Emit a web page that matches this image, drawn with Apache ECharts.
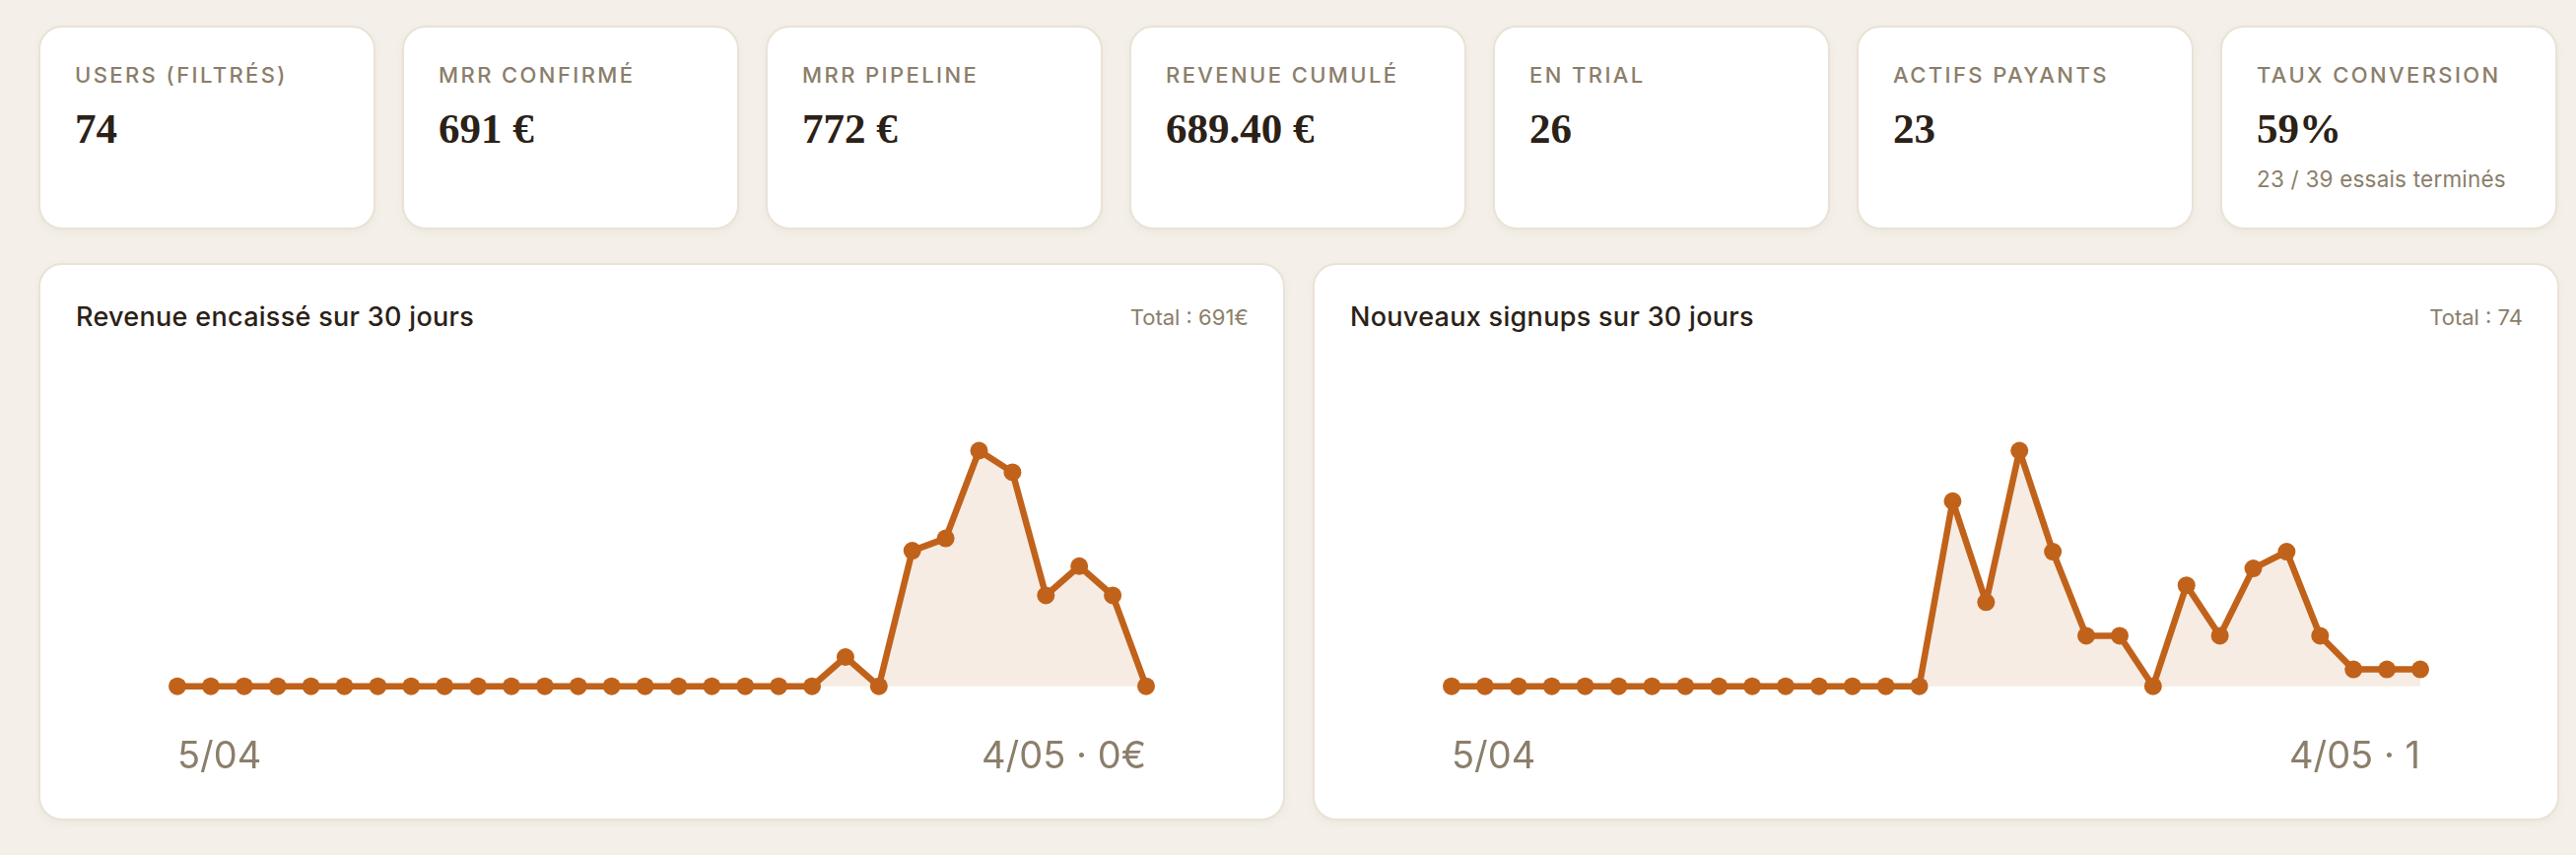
<!DOCTYPE html>
<html>
<head>
<meta charset="utf-8">
<script src="https://cdn.jsdelivr.net/npm/echarts@6/dist/echarts.min.js"></script>
<style>
  html, body { margin:0; padding:0; width:2614px; height:868px; overflow:hidden; background:#f4f0e9; font-family: Inter, "Noto Sans", sans-serif; }
  .card { position:absolute; background:#fff; border:2px solid #e9e2d6; border-radius:24px; box-sizing:border-box; box-shadow:0 3px 8px rgba(140,120,90,0.07); }
  .t { position:absolute; white-space:nowrap; }
  .lbl { font-size:22px; line-height:22px; letter-spacing:2.4px; color:#8b7e6a; font-weight:500; }
  .val { font-family:"Liberation Serif", "DejaVu Serif", serif; font-weight:700; font-size:43px; line-height:43px; color:#2b2117; }
  .sub { font-size:22.5px; line-height:22px; color:#8b7e6a; letter-spacing:0.2px; }
  .title { font-size:27px; line-height:27px; font-weight:500; color:#2b2117; letter-spacing:0.3px; }
  .total { font-size:22px; line-height:22px; color:#8b7e6a; text-align:right; }
  .chart { position:absolute; }
</style>
</head>
<body>
<div id="root"></div>
<script>
// ---- data ----
const kpiLabels = ['USERS (FILTRÉS)', 'MRR CONFIRMÉ', 'MRR PIPELINE', 'REVENUE CUMULÉ', 'EN TRIAL', 'ACTIFS PAYANTS', 'TAUX CONVERSION'];
const kpiValues = ['74', '691 €', '772 €', '689.40 €', '26', '23', '59%'];
const kpiSubs   = ['', '', '', '', '', '', '23 / 39 essais terminés'];

const dates = ['5/04','6/04','7/04','8/04','9/04','10/04','11/04','12/04','13/04','14/04',
               '15/04','16/04','17/04','18/04','19/04','20/04','21/04','22/04','23/04','24/04',
               '25/04','26/04','27/04','28/04','29/04','30/04','1/05','2/05','3/05','4/05'];
const revenue = [0,0,0,0,0,0,0,0,0,0, 0,0,0,0,0,0,0,0,0,0, 19,0,88,96,153,139,59,78,59,0];
const signups = [0,0,0,0,0,0,0,0,0,0, 0,0,0,0,0, 11,5,14,8,3,3,0,6,3,7,8,3,1,1,1];

const chartTitles = ['Revenue encaissé sur 30 jours', 'Nouveaux signups sur 30 jours'];
const chartUnits = ['€', ''];

// ---- layout ----
const root = document.getElementById('root');
function el(cls, css, text) {
  const d = document.createElement('div');
  d.className = cls;
  Object.assign(d.style, css);
  if (text !== undefined) d.textContent = text;
  root.appendChild(d);
  return d;
}

const kpiLeft0 = 39, kpiStep = 369, kpiW = 342;
kpiLabels.forEach((lab, i) => {
  const x = kpiLeft0 + i * kpiStep;
  el('card', { left: x + 'px', top: '26px', width: kpiW + 'px', height: '207px' });
  el('t lbl', { left: (x + 37) + 'px', top: '65px' }, lab);
  el('t val', { left: (x + 37) + 'px', top: '109px' }, kpiValues[i]);
  if (kpiSubs[i]) el('t sub', { left: (x + 37) + 'px', top: '171px' }, kpiSubs[i]);
});

const series = [revenue, signups];
const cardLefts = [39, 1332];
const cardW = 1265, cardTop = 267, cardH = 566;

series.forEach((data, k) => {
  const x = cardLefts[k];
  el('card', { left: x + 'px', top: cardTop + 'px', width: cardW + 'px', height: cardH + 'px' });
  el('t title', { left: (x + 38) + 'px', top: '308px' }, chartTitles[k]);
  const total = data.reduce((a, b) => a + b, 0);
  el('t total', { right: (2614 - (x + cardW - 37)) + 'px', top: '311px' }, 'Total : ' + total + chartUnits[k]);

  const c = el('chart', { left: x + 'px', top: cardTop + 'px', width: cardW + 'px', height: cardH + 'px' });
  const chart = echarts.init(c, null, { renderer: 'canvas' });
  const n = dates.length;
  const last = data[n - 1];
  chart.setOption({
    animation: false,
    grid: { left: 141, right: 141, top: 190.5, height: 239.2, containLabel: false },
    xAxis: {
      type: 'category',
      data: dates,
      boundaryGap: false,
      axisLine: { show: false },
      axisTick: { show: false },
      splitLine: { show: false },
      axisLabel: {
        interval: (i) => i === 0 || i === n - 1,
        showMinLabel: true,
        showMaxLabel: true,
        alignMinLabel: 'left',
        alignMaxLabel: 'right',
        margin: 53,
        fontSize: 38,
        fontFamily: 'Inter',
        color: '#8b7e6a',
        formatter: (v, i) => i === n - 1 ? v + ' · ' + last + chartUnits[k] : v
      }
    },
    yAxis: {
      type: 'value',
      min: 0,
      max: 'dataMax',
      show: false,
      splitLine: { show: false }
    },
    series: [{
      type: 'line',
      data: data,
      clip: false,
      symbol: 'circle',
      symbolSize: 18,
      showSymbol: true,
      showAllSymbol: true,
      lineStyle: { color: '#c1621b', width: 6.5, cap: 'round', join: 'round' },
      itemStyle: { color: '#c1621b' },
      areaStyle: { color: '#f6ece3', opacity: 1 },
      z: 2
    }]
  });
});
</script>
</body>
</html>
